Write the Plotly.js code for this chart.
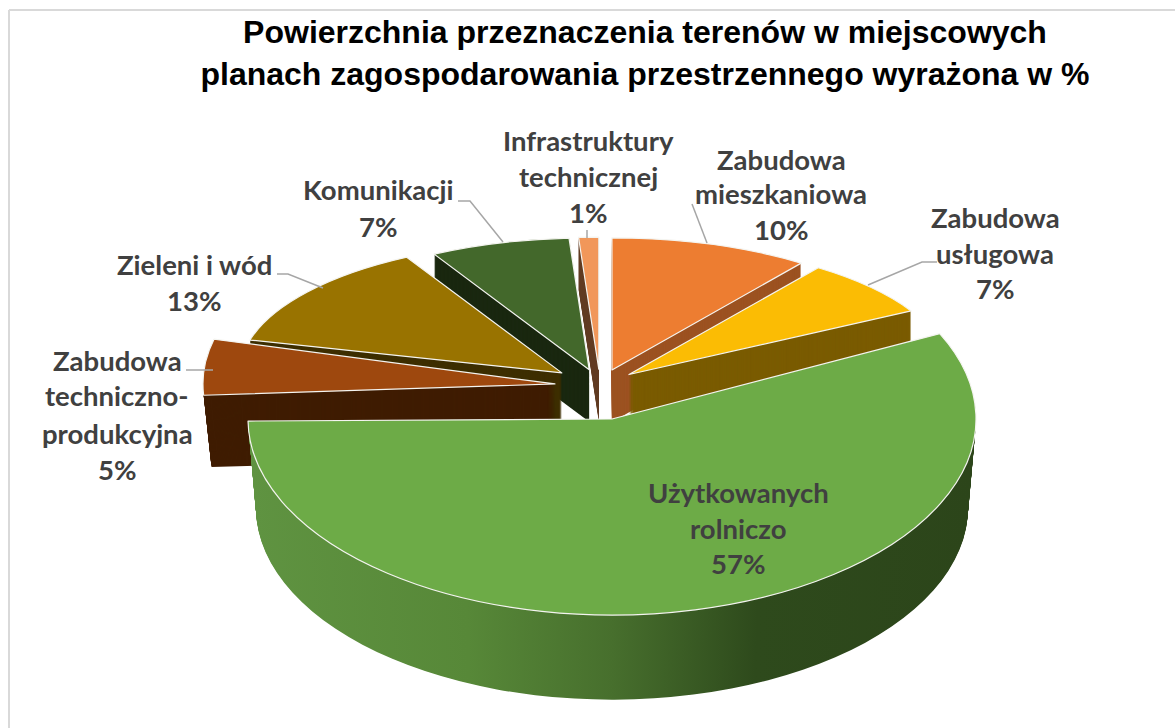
<!DOCTYPE html>
<html><head><meta charset="utf-8">
<script src="https://cdn.plot.ly/plotly-3.0.1.min.js"></script>
<style>html,body{margin:0;padding:0;background:#fff}#c{width:1175px;height:728px}</style>
</head><body><div id="c"></div>
<script>
const categories = ["Zabudowa mieszkaniowa","Zabudowa usługowa","Użytkowanych rolniczo","Zabudowa techniczno-produkcyjna","Zieleni i wód","Komunikacji","Infrastruktury technicznej"];
const values = [10,7,57,5,13,7,1];
const topColors = ["#ED7D31","#FBBC04","#6DAB47","#9E480E","#997300","#43682B","#F1975A"];
const wallColors = ["#9C5221","#7A5B00","#4F7D33","#3F1C02","#3D2E00","#1A2810","#613D24"];
const pulls = [0.12,0.12,0,0.12,0.15,0.12,0.12];
const titleText = "Powierzchnia przeznaczenia terenów w miejscowych<br>planach zagospodarowania przestrzennego wyrażona w %";

// Each label line: text, then its place in pixels
const labelLines = [
 ["Infrastruktury",588,140],["technicznej",588,176],["1%",588,212],
 ["Zabudowa",781,159],["mieszkaniowa",781,194],["10%",781,229],
 ["Zabudowa",995,217],["usługowa",995,253],["7%",995,289],
 ["Komunikacji",378,190],["7%",378,226],
 ["Zieleni i wód",194,264],["13%",194,300],
 ["Zabudowa",117,360],["techniczno-",117,396],["produkcyjna",117,433],["5%",117,469],
 ["Użytkowanych",738,492],["rolniczo",738,528],["57%",738,563]
];
const leaders = [
 "M277,274 L288,274 L323,288","M458,201 L470,201 L503,242","M587,230 L587,238",
 "M692,204 L707,243","M937,262 L922,262 L868,285","M186,370 L213,370"
];
const W=1175,H=728;
// Flattened drawing groups: which slices, centre, radii, wall height, perspective shrink of the wall
const groups = [
 {slices:[0,1,4,5,6],cx:600,cy:385,rx:322,ry:132,depth:52,shrink:0,rotation:0},
 {slices:[3],cx:597,cy:386,rx:352,ry:180,depth:72,shrink:0.02,rotation:0},
 {slices:[2],cx:612,cy:419,rx:364,ry:196,depth:89,shrink:0.022,rotation:3}
];
const BOX=400, STEP=1;
const baseR = BOX/2/(1+Math.max(...pulls));
const domain = {x:[(W-BOX)/2/W,(W+BOX)/2/W], y:[(H-BOX)/2/H,(H+BOX)/2/H]};
const traces=[], placement=[];
function addPie(g,colors,lineW,opt){
  traces.push({type:"pie",labels:categories,values:values,sort:false,direction:"clockwise",rotation:g.rotation,
    pull:pulls,domain:domain,textinfo:"none",hoverinfo:"skip",showlegend:false,
    marker:{colors:colors,line:{color:"#F4F4F0",width:lineW}}});
  placement.push(opt);
}
groups.forEach(g=>{
  const hide=i=>!g.slices.includes(i);
  const n=Math.ceil(g.depth/STEP);
  for(let k=n;k>=1;k--){
    const f=k/n;
    addPie(g,wallColors.map((c,i)=>hide(i)?"rgba(0,0,0,0)":c),0,
      {g:g,dy:g.depth*f,s:1-g.shrink*f,wall:true});
  }
  addPie(g,topColors.map((c,i)=>hide(i)?"rgba(0,0,0,0)":c),values.map((v,i)=>hide(i)?0:1.2),
    {g:g,dy:0,s:1,wall:false});
});
const shapes=[
 {type:"line",xref:"paper",yref:"paper",x0:9/W,x1:9/W,y0:0,y1:1-10/H,line:{color:"#D9D9D9",width:2}},
 {type:"line",xref:"paper",yref:"paper",x0:9/W,x1:1,y0:1-10/H,y1:1-10/H,line:{color:"#D9D9D9",width:2}}
].concat(leaders.map(p=>{
  const path=p.replace(/(\d+),(\d+)/g,(m,a,b)=>(a/W)+","+(1-b/H));
  return {type:"path",xref:"paper",yref:"paper",path:path,line:{color:"#A6A6A6",width:1.5}};
}));
const annotations=labelLines.map(l=>({text:"<b>"+l[0]+"</b>",x:l[1]/W,y:1-l[2]/H,xref:"paper",yref:"paper",
  xanchor:"center",yanchor:"middle",showarrow:false,font:{family:"Lato, sans-serif",size:27.5,color:"#404040"}}));
const layout={width:W,height:H,margin:{l:0,r:0,t:0,b:0},paper_bgcolor:"#fff",showlegend:false,
  title:{text:"<b>"+titleText+"</b>",x:645/W,xanchor:"center",y:1-43/H,yanchor:"middle",
    font:{family:"Liberation Sans, Arial, sans-serif",size:32,color:"#000"}},
  shapes:shapes,annotations:annotations};
Plotly.newPlot("c",traces,layout,{staticPlot:true,displayModeBar:false}).then(gd=>{
  const svg=gd.querySelector("svg.main-svg");
  let defs=svg.querySelector("defs");
  const NS="http://www.w3.org/2000/svg";
  const lg=document.createElementNS(NS,"linearGradient");
  lg.setAttribute("id","greenWall");
  [[0,"#5F9341"],[0.3,"#578838"],[0.5,"#476F2D"],[0.7,"#2E4A1C"],[1,"#2C451A"]].forEach(s=>{
    const st=document.createElementNS(NS,"stop");
    st.setAttribute("offset",s[0]);st.setAttribute("stop-color",s[1]);lg.appendChild(st);
  });
  defs.appendChild(lg);
  const cx0=W/2, cy0=H/2;
  gd.querySelectorAll(".pielayer .trace").forEach((t,i)=>{
    const p=placement[i], g=p.g;
    const sx=g.rx/baseR*p.s, sy=g.ry/baseR*p.s;
    t.setAttribute("transform",`translate(${g.cx},${g.cy+p.dy}) scale(${sx},${sy}) translate(${-cx0},${-cy0})`);
    t.querySelectorAll("path.surface").forEach((el,j)=>{
      el.style.vectorEffect="non-scaling-stroke";
      if(p.wall && j===2 && g.slices.includes(2)) el.style.fill="url(#greenWall)";
    });
  });
});
</script></body></html>
